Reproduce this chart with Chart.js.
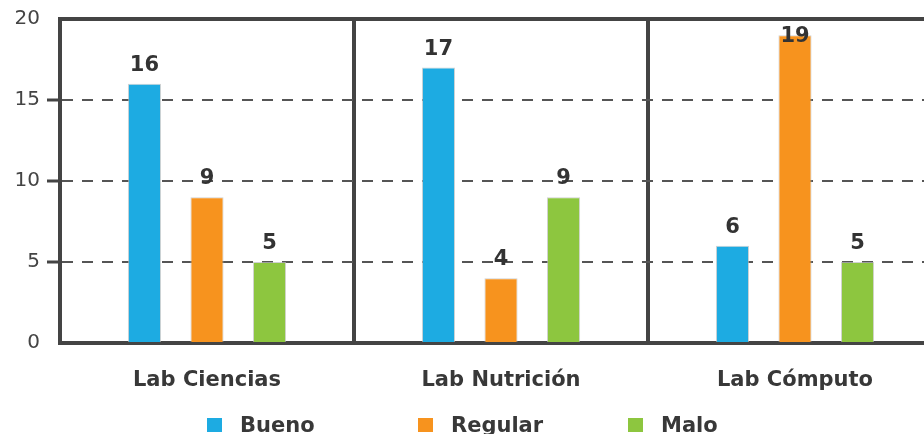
<!DOCTYPE html>
<html><head><meta charset="utf-8">
<script src="https://cdn.jsdelivr.net/npm/chart.js@4.4.1/dist/chart.umd.min.js"></script>
<style>
html,body{margin:0;padding:0;background:#fff;overflow:hidden;width:924px;height:434px}
#wrap{width:946px;height:434px}
</style></head>
<body><div id="wrap"><canvas id="c" width="946" height="434"></canvas></div>
<script>
const categories = ['Lab Ciencias', 'Lab Nutrición', 'Lab Cómputo'];
const seriesNames = ['Bueno', 'Regular', 'Malo'];
const bueno = [16, 17, 6];
const regular = [9, 4, 19];
const malo = [5, 9, 5];
const yMin = 0, yMax = 20, yStep = 5;
const colors = ['#1dabe2', '#f7931e', '#8dc63f'];

const FONT = '"DejaVu Sans", sans-serif';
const DARK = '#444444';

const valueLabels = {
  id: 'valueLabels',
  afterDatasetsDraw(chart) {
    const ctx = chart.ctx;
    const top = chart.chartArea.top;
    ctx.save();
    ctx.font = 'bold 21px ' + FONT;
    ctx.fillStyle = '#333333';
    ctx.textAlign = 'center';
    ctx.textBaseline = 'alphabetic';
    chart.data.datasets.forEach((ds, i) => {
      const meta = chart.getDatasetMeta(i);
      meta.data.forEach((el, j) => {
        const y = Math.max(el.y - 13, top + 23);
        ctx.fillText(String(ds.data[j]), el.x, y);
      });
    });
    ctx.restore();
  }
};

const customLegend = {
  id: 'customLegend',
  afterDraw(chart) {
    const ctx = chart.ctx;
    const xs = [207, 418, 628];
    ctx.save();
    ctx.font = 'bold 21px ' + FONT;
    ctx.textBaseline = 'alphabetic';
    ctx.textAlign = 'left';
    chart.data.datasets.forEach((ds, i) => {
      const x = xs[i];
      ctx.fillStyle = ds.backgroundColor;
      ctx.fillRect(x, 418, 15, 14);
      ctx.fillStyle = '#383838';
      ctx.fillText(ds.label, x + 33, 432);
    });
    ctx.restore();
  }
};

const isEdge = v => v === yMin || v === yMax;

new Chart(document.getElementById('c'), {
  type: 'bar',
  data: {
    labels: categories,
    datasets: [
      { label: seriesNames[0], data: bueno, backgroundColor: colors[0] },
      { label: seriesNames[1], data: regular, backgroundColor: colors[1] },
      { label: seriesNames[2], data: malo, backgroundColor: colors[2] }
    ]
  },
  options: {
    responsive: false,
    animation: false,
    devicePixelRatio: 1,
    layout: { padding: { top: 18, left: 0, right: 4, bottom: 0 } },
    datasets: {
      bar: {
        categoryPercentage: 0.638,
        barPercentage: 0.53,
        borderWidth: 1,
        borderColor: 'rgba(190,190,190,0.7)'
      }
    },
    plugins: {
      legend: { display: false },
      tooltip: { enabled: false }
    },
    scales: {
      x: {
        offset: true,
        afterFit: s => { s.height = 91; },
        grid: { color: DARK, lineWidth: 4, drawTicks: false, offset: true },
        border: { display: true, color: DARK, width: 4 },
        ticks: { color: '#383838', font: { family: FONT, size: 21, weight: 'bold' }, padding: 25 }
      },
      y: {
        min: yMin, max: yMax,
        afterFit: s => { s.width = 60; },
        grid: {
          color: c => c.tick.value === yMin ? 'rgba(0,0,0,0)' : (c.tick.value === yMax ? DARK : '#555555'),
          lineWidth: c => c.tick.value === yMax ? 4 : 2,
          tickLength: 13,
          tickColor: c => isEdge(c.tick.value) ? 'rgba(0,0,0,0)' : DARK,
          tickWidth: 3,
          tickBorderDash: []
        },
        border: {
          display: true, color: DARK, width: 4,
          dash: c => (c.tick && c.tick.value === yMax) ? [] : [11, 9]
        },
        ticks: {
          stepSize: yStep,
          padding: 7,
          color: '#444444',
          font: { family: FONT, size: 20, weight: 'normal' }
        }
      }
    }
  },
  plugins: [valueLabels, customLegend]
});
</script>
</body></html>
